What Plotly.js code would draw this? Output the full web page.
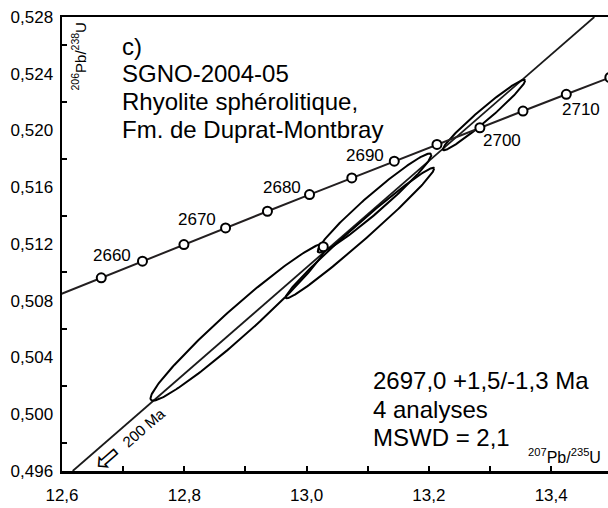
<!DOCTYPE html>
<html><head><meta charset="utf-8">
<script src="https://cdn.plot.ly/plotly-3.0.1.min.js"></script>
<style>html,body{margin:0;padding:0;background:#fff}#chart{width:608px;height:508px}</style>
</head><body><div id="chart"></div>
<script>
// Concordia age markers (Ma) and their ratio coordinates
const ages = [2655,2660,2665,2670,2675,2680,2685,2690,2695,2700,2705,2710,2715];
const concX = [12.6642,12.7316,12.7994,12.8675,12.9360,13.0048,13.0739,13.1434,13.2132,13.2834,13.3539,13.4247,13.4959];
const concY = [0.509618,0.510788,0.511962,0.513135,0.514309,0.515484,0.516660,0.517837,0.519015,0.520194,0.521373,0.522554,0.523735];
// concordia curve end points (2650 and 2720 Ma)
const concStartX = [12.5971], concStartY = [0.508448];
const concEndX = [13.5675], concEndY = [0.524917];
const labeledAges = [2660,2670,2680,2690,2700,2710];
// Discordia line
const discX = [12.6175, 13.4705];
const discY = [0.496, 0.528];
// Analyses: centre, half widths, correlation
const ellX = [12.8886, 13.0873, 13.1110, 13.2901];
const ellY = [0.506502, 0.512775, 0.514890, 0.521092];
const ellSX = [0.14391, 0.12133, 0.09290, 0.06736];
const ellSY = [0.005547, 0.004601, 0.003487, 0.002488];
const ellRho = [0.9714, 0.9866, 0.9708, 0.9747];
// single open circle on the discordia
const pointX = [13.0273], pointY = [0.51181];
// Text
const sampleLines = ['c)', 'SGNO-2004-05', 'Rhyolite sphérolitique,', 'Fm. de Duprat-Montbray'];
const resultLines = ['2697,0 +1,5/-1,3 Ma', '4 analyses', 'MSWD = 2,1'];
const lowerInterceptText = '200 Ma';

const FONT = 'Liberation Sans, Arial, sans-serif';
const traces = [];

traces.push({x: discX, y: discY, mode: 'lines', line: {color: '#1a1a1a', width: 1.8}, hoverinfo: 'skip'});

for (let i = 0; i < ellX.length; i++) {
  const ex = [], ey = [];
  const r = ellRho[i], s = Math.sqrt(1 - r * r);
  for (let k = 0; k <= 200; k++) {
    const t = 2 * Math.PI * k / 200;
    ex.push(ellX[i] + ellSX[i] * Math.cos(t));
    ey.push(ellY[i] + ellSY[i] * (r * Math.cos(t) + s * Math.sin(t)));
  }
  traces.push({x: ex, y: ey, mode: 'lines', line: {color: '#000', width: 2}, hoverinfo: 'skip'});
}

traces.push({x: concStartX.concat(concX, concEndX), y: concStartY.concat(concY, concEndY),
  mode: 'lines', line: {color: '#231f20', width: 2}, hoverinfo: 'skip'});
traces.push({x: concX, y: concY, mode: 'markers',
  marker: {symbol: 'circle', size: 9, color: '#fff', line: {color: '#000', width: 2}}, hoverinfo: 'skip'});
traces.push({x: pointX, y: pointY, mode: 'markers',
  marker: {symbol: 'circle', size: 9, color: '#fff', line: {color: '#000', width: 2}}, hoverinfo: 'skip'});

// label offsets (pixels) for concordia ages
const labelShift = {2660: [-30, 6], 2670: [-29, 8], 2680: [-28, 7], 2690: [-29, 6], 2700: [22, -13], 2710: [15, -15]};

const L = 62, T = 17, W = 546, H = 454;
const px = v => (v - L) / W;
const py = v => (T + H - v) / H;

const annotations = [];
labeledAges.forEach(a => {
  const i = ages.indexOf(a);
  annotations.push({x: concX[i], y: concY[i], xref: 'x', yref: 'y', xanchor: 'center', yanchor: 'middle',
    text: String(a), showarrow: false,
    xshift: labelShift[a][0], yshift: labelShift[a][1], font: {family: FONT, size: 17, color: '#000'}});
});
const sampleY = [46, 74, 101, 129];
sampleLines.forEach((t, k) => annotations.push({x: px(120), y: py(sampleY[k]), xref: 'paper', yref: 'paper',
  xanchor: 'left', yanchor: 'middle', text: t, showarrow: false, font: {family: FONT, size: 24, color: '#000'}}));
const resultY = [380, 409, 437];
resultLines.forEach((t, k) => annotations.push({x: px(371), y: py(resultY[k]), xref: 'paper', yref: 'paper',
  xanchor: 'left', yanchor: 'middle', text: t, showarrow: false, font: {family: FONT, size: 24, color: '#000'}}));
annotations.push({x: px(143.5), y: py(427), xref: 'paper', yref: 'paper', xanchor: 'center', yanchor: 'middle',
  text: lowerInterceptText, textangle: -41,
  showarrow: false, font: {family: FONT, size: 15, color: '#000'}});
annotations.push({x: px(106.5), y: py(457.5), xref: 'paper', yref: 'paper', xanchor: 'center', yanchor: 'middle',
  text: '\u21E6', textangle: -41,
  showarrow: false, font: {family: 'DejaVu Sans', size: 32, color: '#000'}});
annotations.push({x: px(78.5), y: py(57), xref: 'paper', yref: 'paper', xanchor: 'center', yanchor: 'middle',
  text: '<sup>206</sup>Pb/<sup>238</sup>U',
  textangle: -90, showarrow: false, font: {family: FONT, size: 15, color: '#000'}});
annotations.push({x: px(603), y: py(456), xref: 'paper', yref: 'paper', xanchor: 'right', yanchor: 'middle',
  text: '<sup>207</sup>Pb/<sup>235</sup>U', showarrow: false, font: {family: FONT, size: 16, color: '#000'}});

const layout = {
  width: 608, height: 508,
  margin: {l: L, r: 0, t: T, b: 508 - T - H, pad: 0},
  paper_bgcolor: '#fff', plot_bgcolor: '#fff',
  showlegend: false,
  separators: ', ',
  font: {family: FONT, size: 17, color: '#000'},
  xaxis: {range: [12.6, 13.4929], dtick: 0.2, tick0: 12.6, tickformat: '.1f', showgrid: false, zeroline: false,
    showline: true, linewidth: 2.5, linecolor: '#000', mirror: true,
    ticks: 'inside', ticklen: 5, tickwidth: 2, tickcolor: '#000', ticklabelstandoff: 7,
    minor: {dtick: 0.1, tick0: 12.6, ticks: 'inside', ticklen: 5, tickwidth: 2, tickcolor: '#000', showgrid: false},
    tickfont: {family: FONT, size: 17, color: '#000'}},
  yaxis: {range: [0.496, 0.528], dtick: 0.004, tick0: 0.496, tickformat: '.3f', showgrid: false, zeroline: false,
    showline: true, linewidth: 2.5, linecolor: '#000',
    ticks: '', ticklabelstandoff: 3,
    minor: {dtick: 0.002, tick0: 0.496, ticks: 'inside', ticklen: 5, tickwidth: 2, tickcolor: '#000', showgrid: false},
    tickfont: {family: FONT, size: 17, color: '#000'}},
  annotations: annotations
};

Plotly.newPlot('chart', traces, layout, {staticPlot: true, displayModeBar: false});
</script></body></html>
